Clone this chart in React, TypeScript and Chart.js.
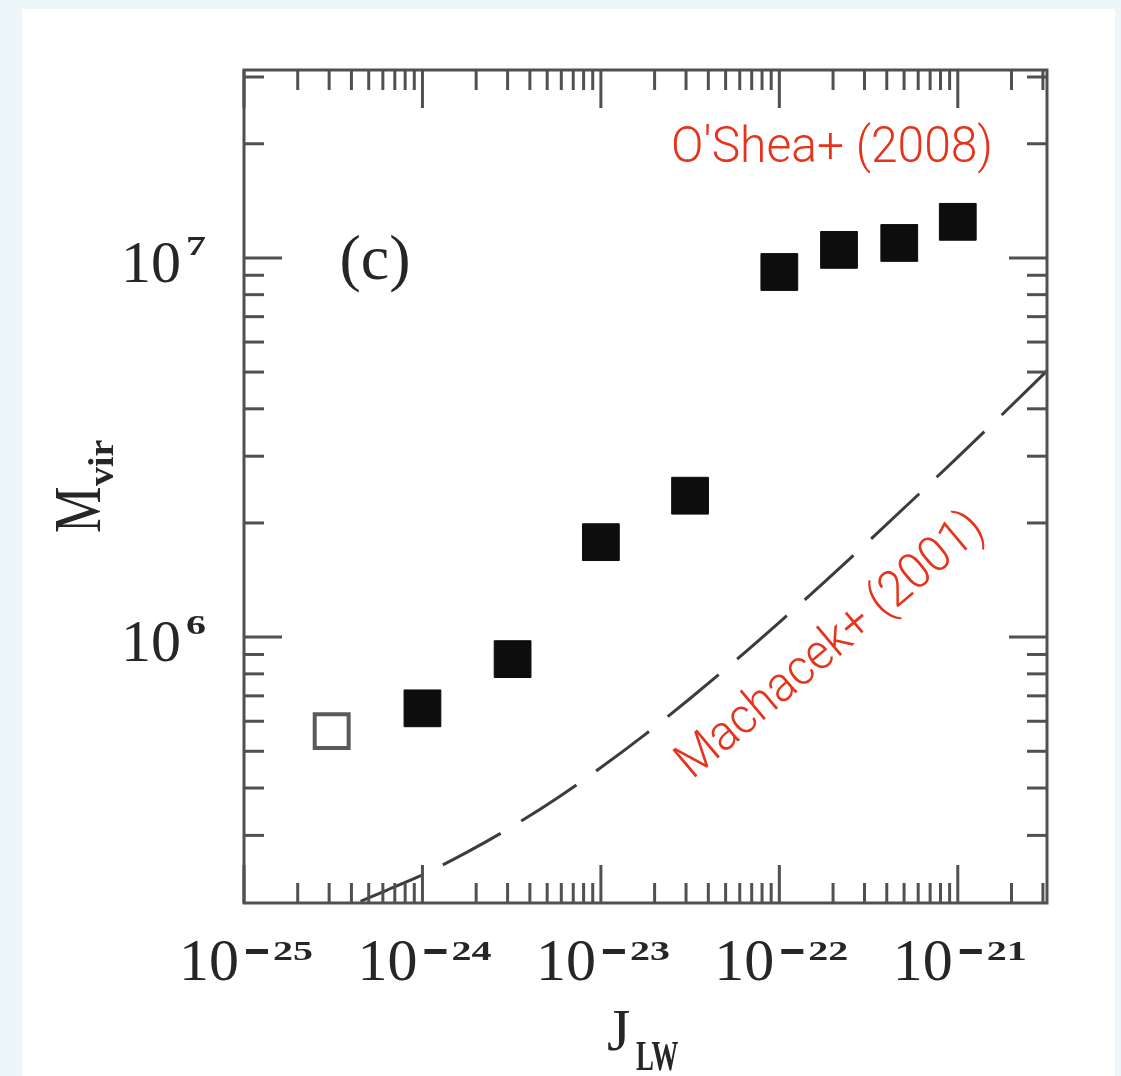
import React, { useEffect, useRef } from "react";
import { Chart, registerables } from "chart.js";

Chart.register(...registerables);

// ---- data ----
const openJ = [3.1e-25];
const openM = [5.65e5];
const filledJ = [1.0e-24, 3.2e-24, 1.0e-23, 3.16e-23, 1.0e-22, 2.16e-22, 4.7e-22, 1.0e-21];
const filledM = [6.49e5, 8.75e5, 1.78e6, 2.36e6, 9.18e6, 1.05e7, 1.095e7, 1.245e7];
const curveJ = [4.5e-25, 6.3e-25, 1e-24, 1.78e-24, 3.16e-24, 5.62e-24, 1e-23, 1.78e-23, 3.16e-23, 5.62e-23, 1e-22, 1.78e-22, 3.16e-22, 5.62e-22, 1e-21, 1.78e-21, 3.16e-21];
const curveM = [2.01e5, 2.15e5, 2.36e5, 2.71e5, 3.16e5, 3.75e5, 4.53e5, 5.55e5, 6.89e5, 8.64e5, 1.094e6, 1.394e6, 1.789e6, 2.306e6, 2.984e6, 3.871e6, 5.035e6];
const xTickExp = [-25, -24, -23, -22, -21];
const yTickExp = [6, 7];
const X_MIN = 1e-25;
const X_MAX = 3.162e-21;
const Y_MIN = 1.99e5;
const Y_MAX = 3.13e7;
const panelLabel = "(c)";
const xTitle = ["J", "LW"];
const yTitle = ["M", "vir"];
const note1 = "O'Shea+ (2008)";
const note2 = "Machacek+ (2001)";

const INK = "#262626";
const RED = "#e6331c";

const decorPlugin = {
  id: "decor",
  afterDraw(chart: any) {
    const { ctx, chartArea: a, scales } = chart;
    const xs = scales.x;
    const ys = scales.y;
    ctx.save();
    // frame
    ctx.strokeStyle = "#505050";
    ctx.lineWidth = 3;
    ctx.strokeRect(a.left, a.top, a.right - a.left, a.bottom - a.top);
    const line = (x1: number, y1: number, x2: number, y2: number) => {
      ctx.beginPath();
      ctx.moveTo(x1, y1);
      ctx.lineTo(x2, y2);
      ctx.stroke();
    };
    const MAJ = 38;
    const MIN = 20;
    for (let d = -25; d <= -21; d++) {
      for (let k = 1; k <= 9; k++) {
        const v = k * Math.pow(10, d);
        if (v < X_MIN * 0.999 || v > X_MAX) continue;
        const px = xs.getPixelForValue(v);
        const L = k === 1 ? MAJ : MIN;
        line(px, a.bottom, px, a.bottom - L);
        line(px, a.top, px, a.top + L);
      }
    }
    for (let d = 5; d <= 7; d++) {
      for (let k = 1; k <= 9; k++) {
        const v = k * Math.pow(10, d);
        if (v < Y_MIN * 1.01 || v > Y_MAX) continue;
        const py = ys.getPixelForValue(v);
        const L = k === 1 ? MAJ : MIN;
        line(a.left, py, a.left + L, py);
        line(a.right, py, a.right - L, py);
      }
    }

    ctx.fillStyle = INK;
    ctx.textAlign = "left";
    ctx.textBaseline = "alphabetic";
    const sup = (t: string, x: number, y: number, sx: number, sy: number, font: string) => {
      ctx.save();
      ctx.translate(x, y);
      ctx.scale(sx, sy);
      ctx.font = font;
      ctx.fillText(t, 0, 0);
      ctx.restore();
    };
    // x tick labels
    for (const e of xTickExp) {
      const px = xs.getPixelForValue(Math.pow(10, e));
      const L = px - 65;
      const base = a.bottom + 77;
      ctx.font = "60px 'Liberation Serif'";
      ctx.fillText("10", L, base);
      ctx.fillRect(L + 67, base - 31, 22, 5);
      sup(String(-e), L + 94, base - 20, 1, 0.68, "bold 40px 'Liberation Serif'");
    }
    // y tick labels
    for (const e of yTickExp) {
      const py = ys.getPixelForValue(Math.pow(10, e));
      const base = py + 24;
      ctx.font = "60px 'Liberation Serif'";
      ctx.fillText("10", 121, base);
      sup(String(e), 186, py - 3, 1, 0.68, "bold 40px 'Liberation Serif'");
    }
    // x title
    ctx.font = "60px 'Liberation Serif'";
    ctx.fillText(xTitle[0], 607, 1050);
    sup(xTitle[1], 636, 1070, 0.64, 1, "bold 42px 'Liberation Serif'");
    // y title
    ctx.save();
    ctx.translate(100, 533);
    ctx.rotate(-Math.PI / 2);
    sup(yTitle[0], 0, 0, 0.9, 1.15, "58px 'Liberation Serif'");
    sup(yTitle[1], 47, 13, 1.05, 1, "bold 36px 'Liberation Serif'");
    ctx.restore();
    // panel label
    ctx.font = "64px 'Liberation Serif'";
    ctx.textAlign = "center";
    ctx.fillText(panelLabel, 375, 279);
    // red notes
    ctx.fillStyle = RED;
    ctx.textAlign = "left";
    ctx.font = "300 50px Roboto";
    ctx.fillText(note1, 671, 162, 322);
    ctx.save();
    ctx.translate(692, 780);
    ctx.rotate((-40 * Math.PI) / 180);
    ctx.fillText(note2, 0, 0, 385);
    ctx.restore();
    ctx.restore();
  },
};

export default function App() {
  const ref = useRef<HTMLCanvasElement | null>(null);
  useEffect(() => {
    if (!ref.current) return;
    const chart = new Chart(ref.current, {
      type: "scatter",
      data: {
        datasets: [
          {
            label: "Machacek+ (2001)",
            data: curveJ.map((x, i) => ({ x, y: curveM[i] })),
            showLine: true,
            borderColor: "#3c3c3c",
            borderWidth: 3,
            borderDash: [66, 24],
            pointRadius: 0,
            cubicInterpolationMode: "monotone",
            fill: false,
          } as any,
          {
            label: "open",
            data: openJ.map((x, i) => ({ x, y: openM[i] })),
            pointStyle: "rect",
            pointRadius: 24,
            borderWidth: 4,
            borderColor: "#5a5a5a",
            backgroundColor: "#ffffff",
          },
          {
            label: "O'Shea+ (2008)",
            data: filledJ.map((x, i) => ({ x, y: filledM[i] })),
            pointStyle: "rect",
            pointRadius: 26,
            borderWidth: 1,
            borderColor: "#0d0d0d",
            backgroundColor: "#0d0d0d",
          },
        ],
      },
      options: {
        responsive: false,
        animation: false,
        devicePixelRatio: 1,
        events: [],
        layout: { padding: { left: 244, right: 74, top: 70, bottom: 173 } },
        plugins: { legend: { display: false }, tooltip: { enabled: false } },
        scales: {
          x: { type: "logarithmic", min: X_MIN, max: X_MAX, display: false },
          y: { type: "logarithmic", min: Y_MIN, max: Y_MAX, display: false },
        },
      },
      plugins: [decorPlugin],
    });
    return () => chart.destroy();
  }, []);
  return (
    <div style={{ position: "fixed", left: 0, top: 0, width: 1121, height: 1076, background: "#edf6f9", overflow: "hidden" }}>
      <div style={{ position: "absolute", left: 22, top: 9, width: 1093, height: 1067, background: "#ffffff" }} />
      <canvas ref={ref} width={1121} height={1076} style={{ position: "absolute", left: 0, top: 0, width: 1121, height: 1076 }} />
    </div>
  );
}
